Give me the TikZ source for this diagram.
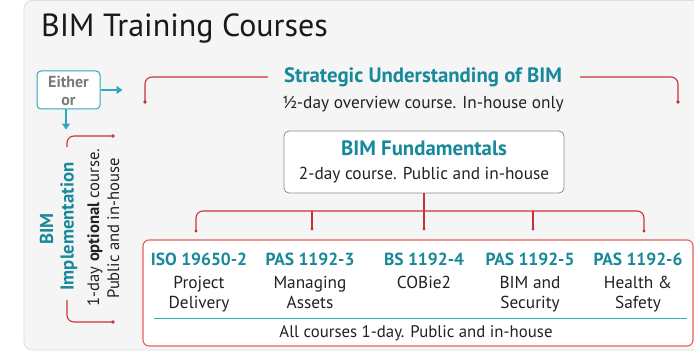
\documentclass[tikz,border=0pt]{standalone}
\usepackage{fontspec}
\setmainfont{PT Sans}
\usetikzlibrary{arrows.meta}
\definecolor{bimteal}{HTML}{17899A}
\definecolor{bimred}{HTML}{C8333B}
\definecolor{boxred}{HTML}{E5605A}
\definecolor{boxteal}{HTML}{2FA7BD}
\definecolor{panel}{HTML}{F5F5F5}
\definecolor{panelline}{HTML}{DEDEDE}
\definecolor{eithergray}{HTML}{7A7A7A}
\definecolor{bodytxt}{HTML}{222222}
\begin{document}
\begin{tikzpicture}[x=1pt,y=-1pt,
  txt/.style={inner sep=0pt, anchor=base},
  head/.style={txt, text=bimteal, font=\fontsize{17.5}{21}\selectfont\bfseries},
  bighead/.style={txt, text=bimteal, font=\fontsize{20.8}{24}\selectfont\bfseries},
  body/.style={txt, text=bodytxt, font=\fontsize{17.3}{20}\selectfont},
  bracket/.style={draw=bimred, line width=1.1pt, rounded corners=7pt},
  arr/.style={draw=boxteal, line width=1.1pt, -{Triangle[length=6pt,width=8pt]}},
  endpt/.style={fill=bimred},
]
\useasboundingbox (0,0) rectangle (694,353);
\clip (0,0) rectangle (694,353);
% panel
\draw[panelline, fill=panel, line width=0.8pt, rounded corners=8pt] (24,0.5) rectangle (720,350);
\node[txt, anchor=base west, text=black!90, font=\fontsize{32}{36}\selectfont] (title) at (41,37) {BIM Training Courses};

% Either / or
\node[draw=boxteal, line width=1pt, fill=white, rounded corners=4pt, minimum width=63pt, minimum height=38pt, inner sep=0pt] (either) at (68.5,90) {};
\node[txt, text=eithergray, font=\fontsize{16}{17}\selectfont\bfseries] (eith1) at (68.5,88) {Either};
\node[txt, text=eithergray, font=\fontsize{16}{17}\selectfont\bfseries] (eith2) at (68.5,106) {or};
\draw[arr] (either.east) -- ++(22,0);
\draw[arr] (either.south -| 66,0) -- ++(0,20);

% Strategic
\node[bighead] (strat) at (423,83) {Strategic Understanding of BIM};
\node[body] (stratsub) at (423,108) {½-day overview course. In-house only};
\coordinate (sL) at (145,102);
\coordinate (sR) at (678,102);
\coordinate (sLe) at (268,77);
\coordinate (sRe) at (580,77);
\draw[bracket] (sL) |- (sLe);
\draw[bracket] (sRe) -| (sR);
\fill[endpt] (sL) circle (1.8pt);
\fill[endpt] (sR) circle (1.8pt);

% Fundamentals
\node[draw=black!45, line width=0.8pt, fill=white, rounded corners=5pt, minimum width=280pt, minimum height=62pt] (fund) at (424,162) {};
\node[bighead] (fundt) at (424,155) {BIM Fundamentals};
\node[body] (funds) at (424,179) {2-day course. Public and in-house};

% Implementation
\node[txt, rotate=90, text=bimteal, font=\fontsize{18.7}{21}\selectfont\bfseries] (impl1) at (53,229) {BIM};
\node[txt, rotate=90, text=bimteal, font=\fontsize{18.7}{21}\selectfont\bfseries] (impl2) at (73.5,226.5) {Implementation};
\node[txt, rotate=90, text=bodytxt, font=\fontsize{16.6}{20}\selectfont] (impls1) at (99,227.5) {1-day \textbf{optional} course.};
\node[txt, rotate=90, text=bodytxt, font=\fontsize{16.6}{20}\selectfont] (impls2) at (119,228.5) {Public and in-house};
\coordinate (iT) at (113,136);
\coordinate (iB) at (113,322);
\draw[bracket] (iT) -| (67,147);
\draw[bracket] (67,300) |- (iB);
\fill[endpt] (iT) circle (1.8pt);
\fill[endpt] (iB) circle (1.8pt);

% Courses box
\node[draw=boxred, line width=1.1pt, fill=white, rounded corners=6pt, minimum width=550pt, minimum height=106pt, inner sep=0pt] (courses) at (418,293) {};
\node[head] (c1) at (199,265) {ISO 19650-2};
\node[head] (c2) at (310,265) {PAS 1192-3};
\node[head] (c3) at (424,265) {BS 1192-4};
\node[head] (c4) at (530,265) {PAS 1192-5};
\node[head] (c5) at (638,265) {PAS 1192-6};
\node[body] (s1a) at (199,288) {Project};
\node[body] (s1b) at (199,308) {Delivery};
\node[body] (s2a) at (310,288) {Managing};
\node[body] (s2b) at (310,308) {Assets};
\node[body] (s3a) at (424,288) {COBie2};
\node[body] (s4a) at (530,288) {BIM and};
\node[body] (s4b) at (530,308) {Security};
\node[body] (s5a) at (638,288) {Health \&};
\node[body] (s5b) at (638,308) {Safety};
\draw[boxteal, line width=1pt] (154,318) -- (687,318);
\node[body, font=\fontsize{16.8}{20}\selectfont] (all) at (416,337) {All courses 1-day. Public and in-house};

% connectors to courses
\coordinate (bar) at (424,211);
\coordinate (d1) at (196,231);
\coordinate (d2) at (312,229);
\coordinate (d3) at (424,229);
\coordinate (d4) at (533,229);
\coordinate (d5) at (644,231);
\draw[bracket] (fund.south) -- (fund.south |- bar);
\draw[bracket] (d1) |- (d5 |- bar) -- (d5);
\draw[bracket] (d2 |- bar) -- (d2);
\draw[bracket] (d3 |- bar) -- (d3);
\draw[bracket] (d4 |- bar) -- (d4);
\foreach \d in {d1,d2,d3,d4,d5} \fill[endpt] (\d) circle (1.6pt);
\end{tikzpicture}
\end{document}
